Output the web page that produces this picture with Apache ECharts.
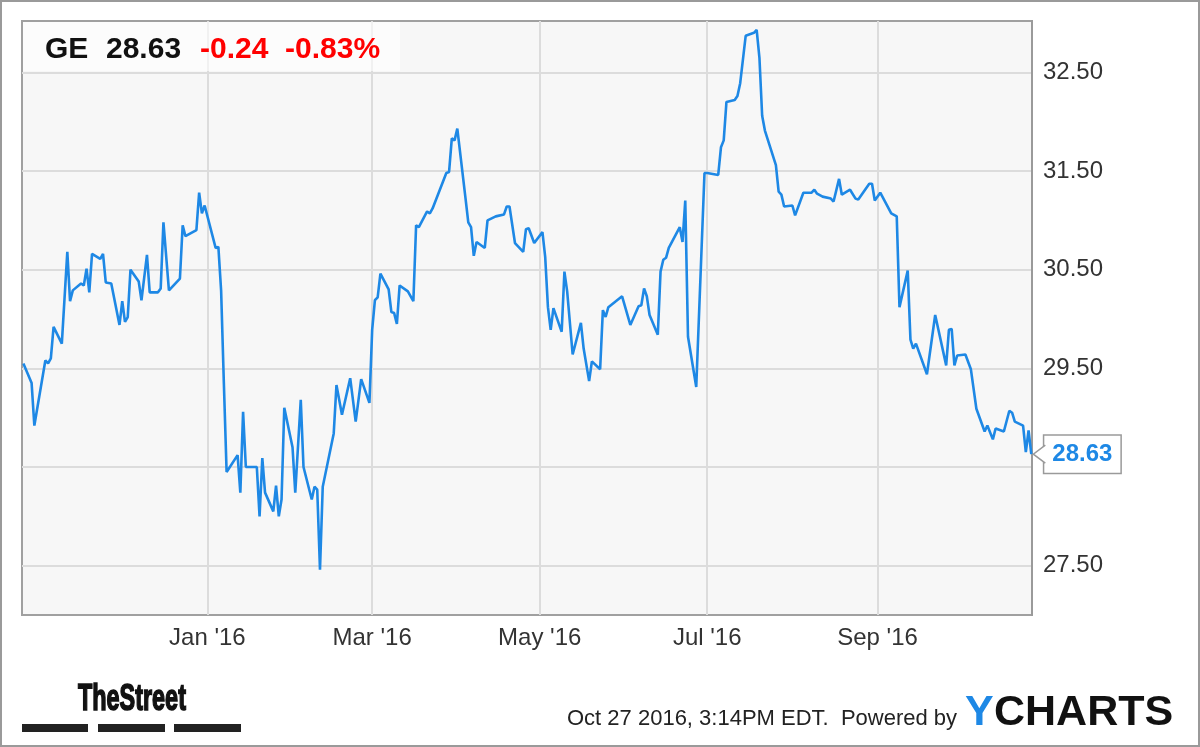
<!DOCTYPE html>
<html><head><meta charset="utf-8">
<script src="https://cdn.jsdelivr.net/npm/echarts@6/dist/echarts.min.js"></script>
<style>html,body{margin:0;padding:0;background:#fff}#c{width:1200px;height:747px}</style>
</head><body><div id="c"></div>
<script>
// ---- data ----
const ticker = 'GE';
const lastPrice = '28.63';
const change = '-0.24';
const changePct = '-0.83%';
const stamp = 'Oct 27 2016, 3:14PM EDT.  Powered by';

const dates = [
'2015-10-26','2015-10-29','2015-10-30','2015-11-03','2015-11-04','2015-11-05','2015-11-06','2015-11-09','2015-11-11','2015-11-12',
'2015-11-13','2015-11-16','2015-11-17','2015-11-18','2015-11-19','2015-11-20','2015-11-23','2015-11-24','2015-11-25','2015-11-27',
'2015-11-30','2015-12-01','2015-12-02','2015-12-03','2015-12-04','2015-12-07','2015-12-08','2015-12-10','2015-12-11','2015-12-14',
'2015-12-15','2015-12-16','2015-12-18','2015-12-22','2015-12-23','2015-12-24','2015-12-28','2015-12-29','2015-12-30','2015-12-31',
'2016-01-04','2016-01-05','2016-01-06','2016-01-07','2016-01-08','2016-01-12','2016-01-13','2016-01-14','2016-01-15','2016-01-19',
'2016-01-20','2016-01-21','2016-01-22','2016-01-25','2016-01-26','2016-01-27','2016-01-28','2016-01-29','2016-02-01','2016-02-02',
'2016-02-04','2016-02-05','2016-02-08','2016-02-09','2016-02-10','2016-02-11','2016-02-12','2016-02-16','2016-02-17','2016-02-19',
'2016-02-22','2016-02-24','2016-02-26','2016-02-29','2016-03-01','2016-03-02','2016-03-03','2016-03-04','2016-03-07','2016-03-08',
'2016-03-09','2016-03-10','2016-03-11','2016-03-14','2016-03-16','2016-03-17','2016-03-18','2016-03-21','2016-03-22','2016-03-23',
'2016-03-28','2016-03-29','2016-03-30','2016-03-31','2016-04-01','2016-04-04','2016-04-05','2016-04-06','2016-04-07','2016-04-08',
'2016-04-11','2016-04-12','2016-04-15','2016-04-18','2016-04-19','2016-04-20','2016-04-22','2016-04-25','2016-04-26','2016-04-27',
'2016-04-29','2016-05-02','2016-05-03','2016-05-04','2016-05-05','2016-05-06','2016-05-09','2016-05-10','2016-05-11','2016-05-13',
'2016-05-16','2016-05-17','2016-05-19','2016-05-20','2016-05-23','2016-05-24','2016-05-25','2016-05-26','2016-05-31','2016-06-03',
'2016-06-06','2016-06-07','2016-06-08','2016-06-09','2016-06-10','2016-06-13','2016-06-14','2016-06-15','2016-06-16','2016-06-17',
'2016-06-21','2016-06-22','2016-06-23','2016-06-24','2016-06-27','2016-06-30','2016-07-01','2016-07-05','2016-07-06','2016-07-07',
'2016-07-08','2016-07-11','2016-07-12','2016-07-13','2016-07-15','2016-07-18','2016-07-19','2016-07-20','2016-07-21','2016-07-22',
'2016-07-26','2016-07-27','2016-07-28','2016-07-29','2016-08-01','2016-08-02','2016-08-05','2016-08-08','2016-08-09','2016-08-10',
'2016-08-12','2016-08-15','2016-08-16','2016-08-18','2016-08-19','2016-08-22','2016-08-24','2016-08-25','2016-08-29','2016-08-30',
'2016-08-31','2016-09-02','2016-09-06','2016-09-08','2016-09-09','2016-09-12','2016-09-13','2016-09-14','2016-09-15','2016-09-19',
'2016-09-22','2016-09-26','2016-09-27','2016-09-28','2016-09-29','2016-09-30','2016-10-03','2016-10-05','2016-10-07','2016-10-10',
'2016-10-11','2016-10-13','2016-10-14','2016-10-17','2016-10-19','2016-10-20','2016-10-21','2016-10-24','2016-10-25','2016-10-26',
'2016-10-27'
];
const prices = [
29.55,29.35,28.92,29.58,29.55,29.60,29.92,29.75,30.68,30.18,
30.29,30.36,30.34,30.51,30.27,30.66,30.61,30.66,30.37,30.36,
29.94,30.18,29.97,30.02,30.50,30.38,30.19,30.65,30.27,30.27,
30.31,30.98,30.29,30.41,30.95,30.84,30.90,31.28,31.07,31.15,
30.72,30.73,30.29,29.35,28.45,28.62,28.24,29.06,28.50,28.50,
28.00,28.59,28.24,28.05,28.31,28.00,28.17,29.10,28.70,28.24,
29.18,28.50,28.17,28.30,28.27,27.46,28.30,28.84,29.33,29.03,
29.40,28.96,29.39,29.15,29.89,30.19,30.22,30.46,30.30,30.07,
30.06,29.95,30.34,30.28,30.18,30.95,30.93,31.09,31.07,31.12,
31.48,31.49,31.83,31.81,31.93,31.22,30.98,30.93,30.64,30.78,
30.72,31.00,31.04,31.06,31.14,31.14,30.77,30.68,30.91,30.92,
30.77,30.88,30.63,30.12,29.89,30.11,29.87,30.48,30.28,29.64,
29.96,29.70,29.37,29.57,29.49,30.09,30.02,30.12,30.23,29.94,
30.13,30.14,30.31,30.23,30.04,29.84,30.48,30.60,30.62,30.72,
30.93,30.78,31.20,29.82,29.31,31.48,31.48,31.46,31.74,31.81,
32.20,32.22,32.26,32.39,32.87,32.90,32.93,32.65,32.06,31.91,
31.56,31.29,31.26,31.14,31.15,31.05,31.28,31.28,31.31,31.27,
31.24,31.22,31.19,31.42,31.26,31.31,31.22,31.21,31.37,31.37,
31.20,31.28,31.07,31.04,30.12,30.49,29.79,29.70,29.75,29.44,
30.04,29.53,29.89,29.90,29.53,29.63,29.64,29.49,29.09,28.86,
28.92,28.78,28.89,28.86,29.07,29.05,28.96,28.92,28.65,28.87,
28.63
];
const yGridTicks = [27.5, 28.5, 29.5, 30.5, 31.5, 32.5];
const yLabelTicks = [27.5, 29.5, 30.5, 31.5, 32.5];   // 28.50 is hidden behind the price tag
const xTickDates = ['2016-01-01','2016-03-01','2016-05-01','2016-07-01','2016-09-01'];
const xTickLabels = ["Jan '16", "Mar '16", "May '16", "Jul '16", "Sep '16"];
const xRange = ['2015-10-25T12:00:00Z', '2016-10-27T06:00:00Z'];
const yRange = [27.0, 33.02];

// ---- chart ----
const FONT = '"Liberation Sans", Arial, Helvetica, sans-serif';
const BLUE = '#1e88e5';
function toTs(d) { return Date.parse(d + 'T00:00:00Z'); }
const xTicks = xTickDates.map(toTs);
const seriesData = dates.map(function (d, i) { return [toTs(d), prices[i]]; });

const chart = echarts.init(document.getElementById('c'));
const option = {
  animation: false,
  backgroundColor: '#ffffff',
  grid: {left: 22, right: 168, top: 21, bottom: 132, show: true,
         backgroundColor: '#f7f7f7', borderColor: '#a0a0a0', borderWidth: 2},
  xAxis: {
    type: 'value', min: Date.parse(xRange[0]), max: Date.parse(xRange[1]),
    axisLine: {show: false},
    axisTick: {show: false, customValues: xTicks},
    axisLabel: {customValues: xTicks, formatter: function (v) { var k = xTicks.indexOf(v); return k >= 0 ? xTickLabels[k] : ''; },
                fontSize: 24, color: '#333', margin: 11, fontFamily: FONT},
    splitLine: {show: true, lineStyle: {color: '#dcdcdc', width: 2}}
  },
  yAxis: {
    type: 'value', position: 'right', min: yRange[0], max: yRange[1],
    axisLine: {show: true, lineStyle: {color: '#9a9a9a', width: 2}},
    axisTick: {show: false, customValues: yGridTicks},
    axisLabel: {customValues: yLabelTicks, formatter: function (v) { return Number(v).toFixed(2); },
                fontSize: 24, color: '#333', margin: 11, fontFamily: FONT},
    splitLine: {show: true, lineStyle: {color: '#dcdcdc', width: 2}}
  },
  series: [{
    type: 'line', data: seriesData, symbol: 'none', showSymbol: false, z: 5,
    lineStyle: {color: BLUE, width: 2.6},
    endLabel: {show: true, formatter: function (p) { return Number(p.value[1]).toFixed(2); }, color: BLUE, fontWeight: 'bold',
               fontSize: 24, fontFamily: FONT, backgroundColor: '#ffffff', borderColor: '#9a9a9a',
               borderWidth: 1.5, padding: [7, 8, 6, 8], distance: 13}
  }],
  graphic: [
    {id: 'frame', type: 'rect', z: 100, shape: {x: 1, y: 1, width: 1198, height: 745}, style: {fill: 'none', stroke: '#9a9a9a', lineWidth: 2}},
    {id: 'hdrbox', type: 'rect', z: 50, shape: {x: 23, y: 22, width: 377, height: 49}, style: {fill: 'rgba(255,255,255,0.6)'}},
    {id: 't1', type: 'text', z: 60, x: 45, y: 50, style: {text: ticker, font: 'bold 30px ' + FONT, fill: '#111', verticalAlign: 'middle'}},
    {id: 't2', type: 'text', z: 60, x: 106, y: 50, style: {text: lastPrice, font: 'bold 30px ' + FONT, fill: '#111', verticalAlign: 'middle'}},
    {id: 't3', type: 'text', z: 60, x: 200, y: 50, style: {text: change, font: 'bold 30px ' + FONT, fill: '#ff0000', verticalAlign: 'middle'}},
    {id: 't4', type: 'text', z: 60, x: 285, y: 50, style: {text: changePct, font: 'bold 30px ' + FONT, fill: '#ff0000', verticalAlign: 'middle'}},
    {id: 'ts', type: 'text', z: 60, x: 78, y: 700, scaleX: 0.65, style: {text: 'TheStreet', font: 'bold 36px ' + FONT, fill: '#111', stroke: '#111', lineWidth: 1.6, verticalAlign: 'middle'}},
    {id: 'b1', type: 'rect', z: 60, shape: {x: 22, y: 724, width: 66, height: 8}, style: {fill: '#222'}},
    {id: 'b2', type: 'rect', z: 60, shape: {x: 98, y: 724, width: 67, height: 8}, style: {fill: '#222'}},
    {id: 'b3', type: 'rect', z: 60, shape: {x: 174, y: 724, width: 67, height: 8}, style: {fill: '#222'}},
    {id: 'st', type: 'text', z: 60, x: 567, y: 719, style: {text: stamp, font: '22px ' + FONT, fill: '#222', verticalAlign: 'middle'}},
    {id: 'yc1', type: 'text', z: 60, x: 965, y: 713, style: {text: 'Y', font: 'bold 43px ' + FONT, fill: BLUE, verticalAlign: 'middle'}},
    {id: 'yc2', type: 'text', z: 60, x: 994, y: 713, style: {text: 'CHARTS', font: 'bold 43px ' + FONT, fill: '#111', verticalAlign: 'middle'}}
  ]
};
chart.setOption(option);

// pointer notch of the end label, placed from the last data point's pixel position
const last = seriesData[seriesData.length - 1];
const p = chart.convertToPixel({gridIndex: 0}, last);
chart.setOption({graphic: [{id: 'notch', type: 'polyline', z: 200,
  shape: {points: [[p[0] + 14, p[1] - 9], [p[0] + 2, p[1]], [p[0] + 14, p[1] + 9]]},
  style: {fill: '#ffffff', stroke: '#9a9a9a', lineWidth: 1.5}}]});
</script></body></html>
